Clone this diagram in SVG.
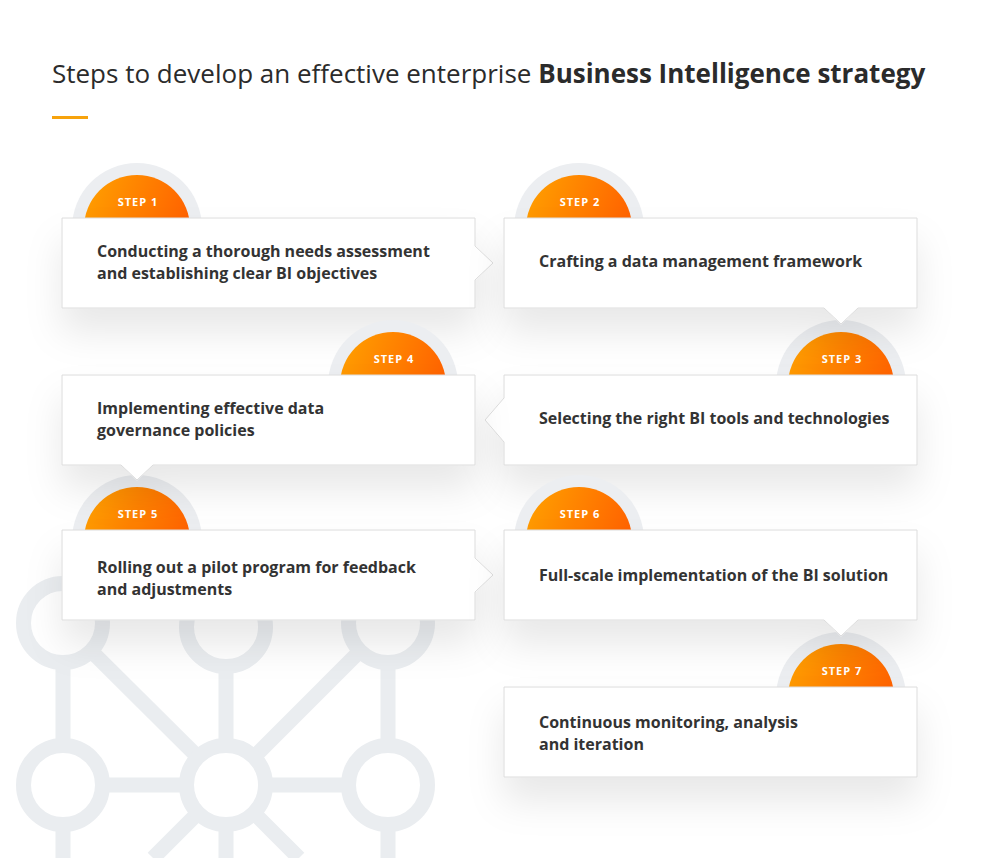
<svg xmlns="http://www.w3.org/2000/svg" width="989" height="858" viewBox="0 0 989 858">
<defs>
<linearGradient id="og" x1="0" y1="0.3" x2="1" y2="0.7">
<stop offset="0" stop-color="#ff9c00"/>
<stop offset="1" stop-color="#ff5a00"/>
</linearGradient>
<filter id="sh" x="-25%" y="-40%" width="150%" height="220%">
<feDropShadow dx="0" dy="24" stdDeviation="18" flood-color="#000" flood-opacity="0.09"/>
</filter>
<style>
.ring{fill:#eceef1}
.dot{fill:url(#og)}
.lbl{font-family:"Open Sans","Liberation Sans",sans-serif;font-weight:700;font-size:11px;fill:#fff;letter-spacing:1px;text-anchor:middle}
.box{fill:#fff;stroke:#dcdcdc;stroke-width:1;filter:url(#sh)}
.txt{font-family:"Open Sans","Liberation Sans",sans-serif;font-weight:700;font-size:16px;fill:#333}
.net line{stroke:#eaedf0;stroke-width:15}
.net circle{fill:#fff;stroke:#eaedf0;stroke-width:15}
</style>
</defs>
<rect width="989" height="858" fill="#fff"/>
<g class="net" id="background-network">
<line x1="63" y1="623" x2="63" y2="858"/>
<line x1="226" y1="623" x2="226" y2="858"/>
<line x1="388" y1="623" x2="388" y2="858"/>
<line x1="63" y1="623" x2="226" y2="785"/>
<line x1="388" y1="623" x2="226" y2="785"/>
<line x1="63" y1="785" x2="388" y2="785"/>
<line x1="226" y1="785" x2="153" y2="858"/>
<line x1="226" y1="785" x2="299" y2="858"/>
<circle cx="63" cy="623" r="39.5"/>
<circle cx="226" cy="627" r="39.5"/>
<circle cx="388" cy="623" r="39.5"/>
<circle cx="63" cy="785" r="39.5"/>
<circle cx="226" cy="785" r="39.5"/>
<circle cx="388" cy="785" r="39.5"/>
</g>
<g id="title">
<text x="52" y="83" font-family="'Open Sans','Liberation Sans',sans-serif" font-size="26" fill="#2b2b2b">Steps to develop an effective enterprise <tspan font-weight="700">Business Intelligence strategy</tspan></text>
<rect x="52" y="116" width="36" height="3" fill="#f7a30c"/>
</g>
<g id="connectors"/>
<g id="step1">
<circle class="ring" cx="137" cy="228" r="65"/>
<circle class="dot" cx="137" cy="228" r="53"/>
<text class="lbl" x="138" y="206">STEP 1</text>
<path class="box" d="M62,218H475V246L493,263L475,280V308H62Z"/>
<text class="txt" x="97" y="257">Conducting a thorough needs assessment</text>
<text class="txt" x="97" y="279">and establishing clear BI objectives</text>
</g>
<g id="step3">
<circle class="ring" cx="841" cy="385" r="65"/>
<circle class="dot" cx="841" cy="385" r="53"/>
<text class="lbl" x="842" y="363">STEP 3</text>
<path class="box" d="M504,375H917V465H504V442L485,420L504,398Z"/>
<text class="txt" x="539" y="424">Selecting the right BI tools and technologies</text>
</g>
<g id="step2">
<circle class="ring" cx="579" cy="228" r="65"/>
<circle class="dot" cx="579" cy="228" r="53"/>
<text class="lbl" x="580" y="206">STEP 2</text>
<path class="box" d="M504,218H917V308H858L841,324L824,308H504Z"/>
<text class="txt" x="539" y="267">Crafting a data management framework</text>
</g>
<g id="step5">
<circle class="ring" cx="137" cy="540" r="65"/>
<circle class="dot" cx="137" cy="540" r="53"/>
<text class="lbl" x="138" y="518">STEP 5</text>
<path class="box" d="M62,530H475V558L493,575L475,592V620H62Z"/>
<text class="txt" x="97" y="573">Rolling out a pilot program for feedback</text>
<text class="txt" x="97" y="595">and adjustments</text>
</g>
<g id="step4">
<circle class="ring" cx="393" cy="385" r="65"/>
<circle class="dot" cx="393" cy="385" r="53"/>
<text class="lbl" x="394" y="363">STEP 4</text>
<path class="box" d="M62,375H475V465H153L137,480L121,465H62Z"/>
<text class="txt" x="97" y="414">Implementing effective data</text>
<text class="txt" x="97" y="436">governance policies</text>
</g>
<g id="step7">
<circle class="ring" cx="841" cy="697" r="65"/>
<circle class="dot" cx="841" cy="697" r="53"/>
<text class="lbl" x="842" y="675">STEP 7</text>
<path class="box" d="M504,687H917V777H504Z"/>
<text class="txt" x="539" y="728">Continuous monitoring, analysis</text>
<text class="txt" x="539" y="750">and iteration</text>
</g>
<g id="step6">
<circle class="ring" cx="579" cy="540" r="65"/>
<circle class="dot" cx="579" cy="540" r="53"/>
<text class="lbl" x="580" y="518">STEP 6</text>
<path class="box" d="M504,530H917V620H858L841,636L824,620H504Z"/>
<text class="txt" x="539" y="581">Full-scale implementation of the BI solution</text>
</g>
</svg>
